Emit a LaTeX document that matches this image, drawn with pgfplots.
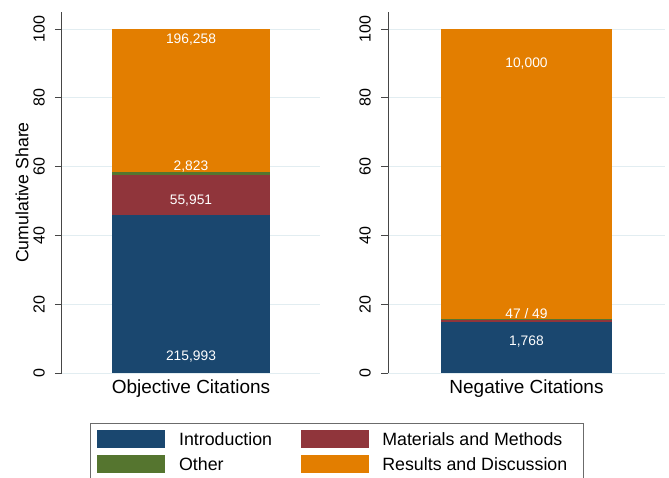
\documentclass[border=0pt]{standalone}
\usepackage{pgfplots}
\pgfplotsset{compat=1.18}
\usepackage{fontspec}
\setmainfont{Liberation Sans}
\definecolor{snavy}{RGB}{26,71,111}
\definecolor{smaroon}{RGB}{144,53,59}
\definecolor{sgreen}{RGB}{85,117,47}
\definecolor{sorange}{RGB}{227,126,0}
\definecolor{sgrid}{RGB}{226,237,241}
\definecolor{saxis}{RGB}{70,70,70}
\tikzset{lbl/.style={text=white, font=\fontsize{13.8}{14}\selectfont}}
\pgfplotsset{
  stbar/.style={
    scale only axis, height=361pt,
    ymin=0, ymax=105, xmin=-0.5, xmax=0.5,
    enlargelimits=false,
    ybar stacked, bar width=0.615,
    axis lines*=left,
    x axis line style={draw=none},
    y axis line style={saxis, line width=1pt},
    ytick={0,20,40,60,80,100}, xtick={0},
    xtick style={draw=none},
    ytick style={saxis, line width=1pt},
    tick align=outside, major tick length=7pt,
    ymajorgrids, grid style={sgrid, line width=1pt},
    /pgf/number format/assume math mode=true,
    yticklabel shift=10pt,
    yticklabel style={rotate=90, anchor=south, inner sep=0pt,
      font=\fontsize{16}{16}\selectfont},
    xticklabel style={anchor=north, inner sep=0pt,
      font=\fontsize{19}{19}\selectfont},
    legend image code/.code={\fill[##1] (0pt,-9pt) rectangle (68pt,9pt);},
  }
}
\begin{document}
\begin{tikzpicture}
\useasboundingbox (0,0) rectangle (669pt,-478pt);
\begin{axis}[stbar, at={(62pt,-373pt)}, anchor=south west, width=258pt,
  xticklabels={Objective Citations},
  ylabel={Cumulative Share},
  ylabel style={at={(axis description cs:-0.155,0.5)}, anchor=center,
    font=\fontsize{17.7}{18}\selectfont},
  legend columns=2,
  legend cell align=left,
  legend style={at={(axis description cs:0.1085,-0.1393)}, anchor=north west,
    draw=saxis!80, line width=0.8pt, fill=white,
    font=\fontsize{17.8}{18}\selectfont,
    inner xsep=7pt, inner ysep=6.5pt, row sep=6.7pt,
    /tikz/every odd column/.append style={column sep=11.7pt},
    /tikz/every even column/.append style={column sep=26.5pt}},
]
\addplot[fill=snavy, draw=none] coordinates {(0,45.856)};
\addplot[fill=smaroon, draw=none] coordinates {(0,11.879)};
\addplot[fill=sgreen, draw=none] coordinates {(0,0.599)};
\addplot[fill=sorange, draw=none] coordinates {(0,41.666)};
\legend{Introduction, Materials and Methods, Other, Results and Discussion\hspace*{7pt}}
\coordinate (a1) at (axis cs:0,96.9);
\coordinate (a2) at (axis cs:0,59.9);
\coordinate (a3) at (axis cs:0,50.2);
\coordinate (a4) at (axis cs:0,4.75);
\end{axis}
\node[lbl] at (a1) {196,258};
\node[lbl] at (a2) {2,823};
\node[lbl] at (a3) {55,951};
\node[lbl] at (a4) {215,993};
\begin{axis}[stbar, at={(388pt,-373pt)}, anchor=south west, width=277pt,
  xticklabels={Negative Citations},
]
\addplot[fill=snavy, draw=none] coordinates {(0,14.902)};
\addplot[fill=smaroon, draw=none] coordinates {(0,0.396)};
\addplot[fill=sgreen, draw=none] coordinates {(0,0.413)};
\addplot[fill=sorange, draw=none] coordinates {(0,84.289)};
\coordinate (b1) at (axis cs:0,90.1);
\coordinate (b2) at (axis cs:0,17.2);
\coordinate (b3) at (axis cs:0,9.2);
\end{axis}
\node[lbl] at (b1) {10,000};
\node[lbl] at (b2) {47 / 49};
\node[lbl] at (b3) {1,768};
\end{tikzpicture}
\end{document}
